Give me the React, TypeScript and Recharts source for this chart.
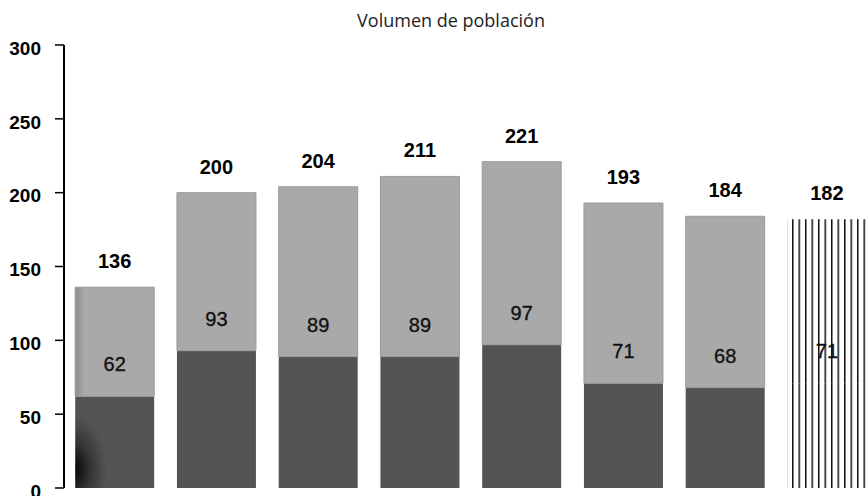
import React from 'react';
import { BarChart, Bar, XAxis, YAxis, Cell, LabelList } from 'recharts';

// Population volume per group: lower (dark) block and total stack height
const groups = ['1', '2', '3', '4', '5', '6', '7', '8'];
const baseValues = [62, 93, 89, 89, 97, 71, 68, 71];
const totalValues = [136, 200, 204, 211, 221, 193, 184, 182];
const yTicks = [0, 50, 100, 150, 200, 250, 300];
const edgeTicks = [0, 1, 2, 3, 4, 5, 6, 7, 8];
const projectedIndex = 7;

const data = groups.map((g, i) => ({
  group: g,
  base: baseValues[i],
  rest: totalValues[i] - baseValues[i],
  total: totalValues[i],
}));

const NUM_FONT = '"Liberation Sans", Arial, Helvetica, sans-serif';

const BaseLabel = (props: any) => {
  const vb = props.viewBox || props;
  const x = Number(props.x ?? vb.x);
  const y = Number(props.y ?? vb.y);
  const width = Number(props.width ?? vb.width);
  const height = Number(props.height ?? vb.height);
  const idx = props.index;
  const value = idx != null ? baseValues[idx] : props.value;
  return (
    <text
      x={x + width / 2}
      y={y + height - 25}
      textAnchor="middle"
      fontSize={20}
      fontFamily={NUM_FONT}
      fill="#111"
      stroke="#111"
      strokeWidth={0.35}
    >
      {value}
    </text>
  );
};

export default function App() {
  return (
    <div
      style={{
        position: 'absolute',
        left: 0,
        top: 0,
        width: 868,
        height: 496,
        overflow: 'hidden',
        background: '#fff',
      }}
    >
      <div
        style={{
          position: 'absolute',
          left: 451,
          top: 8,
          transform: 'translateX(-50%)',
          fontFamily: '"Open Sans", "Noto Sans", sans-serif',
          fontSize: 18,
          lineHeight: '24px',
          color: '#222',
          whiteSpace: 'nowrap',
        }}
      >
        Volumen de población
      </div>
      <BarChart
        width={880}
        height={520}
        data={data}
        margin={{ top: 45, right: 2, bottom: 22, left: 0 }}
        barCategoryGap="11%"
      >
        <defs>
          <radialGradient
            id="baseShade"
            cx="0"
            cy="0.8"
            r="0.4"
            gradientTransform="translate(0 0.8) scale(1 1.5) translate(0 -0.8)"
          >
            <stop offset="0" stopColor="#050505" />
            <stop offset="0.5" stopColor="#363636" />
            <stop offset="1" stopColor="#545454" />
          </radialGradient>
          <linearGradient id="restShade" x1="0" y1="0" x2="1" y2="0">
            <stop offset="0" stopColor="#8c8c8c" />
            <stop offset="0.12" stopColor="#a9a9a9" />
            <stop offset="1" stopColor="#a9a9a9" />
          </linearGradient>
          <pattern id="vlines" patternUnits="userSpaceOnUse" x="5.5" y="0" width="6.5" height="10">
            <line x1="0.75" y1="0" x2="0.75" y2="10" stroke="#000" strokeWidth="1.4" />
          </pattern>
        </defs>
        <XAxis xAxisId="cat" dataKey="group" hide />
        <XAxis
          xAxisId="edges"
          type="number"
          domain={[0, 8]}
          ticks={edgeTicks}
          allowDataOverflow
          tick={false}
          tickSize={7}
          height={10}
          axisLine={{ stroke: '#000', strokeWidth: 2 }}
          tickLine={{ stroke: '#000', strokeWidth: 1.5 }}
        />
        <YAxis
          domain={[0, 300]}
          ticks={yTicks}
          width={64}
          tickSize={9}
          tickMargin={14}
          axisLine={{ stroke: '#000', strokeWidth: 2 }}
          tickLine={{ stroke: '#000', strokeWidth: 1.5 }}
          tick={{ fill: '#000', fontSize: 19, fontWeight: 700, fontFamily: NUM_FONT, dy: 3 }}
        />
        <Bar xAxisId="cat" dataKey="base" stackId="s" fill="#545454" isAnimationActive={false}>
          {data.map((_, i) => (
            <Cell
              key={`b${i}`}
              fill={i === 0 ? 'url(#baseShade)' : i === projectedIndex ? 'url(#vlines)' : '#545454'}
            />
          ))}
        </Bar>
        <Bar
          xAxisId="cat"
          dataKey="rest"
          stackId="s"
          fill="#a9a9a9"
          stroke="#9b9b9b"
          strokeWidth={1}
          isAnimationActive={false}
        >
          {data.map((_, i) => (
            <Cell
              key={`r${i}`}
              fill={i === 0 ? 'url(#restShade)' : i === projectedIndex ? 'url(#vlines)' : '#a9a9a9'}
              stroke={i === projectedIndex ? 'none' : '#9b9b9b'}
            />
          ))}
          <LabelList dataKey="base" content={<BaseLabel />} />
          <LabelList
            dataKey="total"
            position="top"
            offset={19}
            fill="#000"
            fontSize={20}
            fontWeight={700}
            fontFamily={NUM_FONT}
          />
        </Bar>
      </BarChart>
    </div>
  );
}
